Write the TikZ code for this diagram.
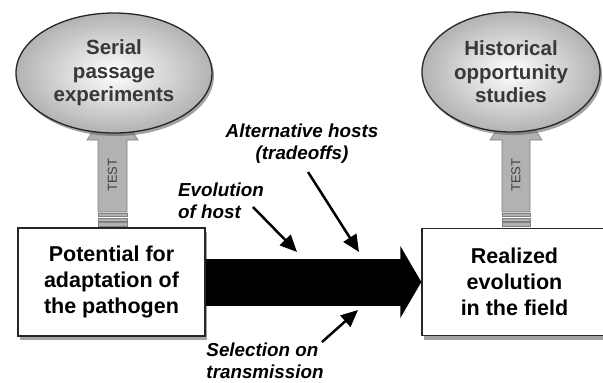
\documentclass[tikz,border=0pt]{standalone}
\usepackage{fontspec}
\setmainfont{Liberation Sans}
\usetikzlibrary{arrows.meta,shadows,shapes.geometric}
\begin{document}
\begin{tikzpicture}[x=1pt,y=-1pt,
  box/.style={draw=black!85, line width=1.3pt, fill=white, minimum width=187pt,
    minimum height=108pt, inner sep=0pt, align=center,
    font=\bfseries\fontsize{21.5}{26}\selectfont,
    drop shadow={shadow xshift=2pt, shadow yshift=-4pt, fill=black!60, opacity=0.6}},
  ell/.style={ellipse, draw=black!85, line width=1.3pt, inner color=white,
    outer color=black!30, align=center, inner sep=0pt, text=black!78,
    font=\bfseries\fontsize{20.5}{23.5}\selectfont,
    drop shadow={shadow xshift=2pt, shadow yshift=-3pt, fill=black!60, opacity=0.6}},
  lab/.style={align=#1, inner sep=0pt, font=\bfseries\itshape\fontsize{18.8}{22}\selectfont},
  lab/.default=left,
  testfill/.style={fill=black!30, draw=black!50, line width=0.6pt},
  testlab/.style={rotate=90, text=black!75, inner sep=0pt, font=\fontsize{13}{13}\selectfont},
  thin arrow/.style={line width=2.5pt, -{Triangle[length=17pt,width=15pt]}}
]
\useasboundingbox (0,0) rectangle (603,383);

% TEST arrows (drawn below the ellipses)
\filldraw[testfill] (87,140) -- (112.5,100) -- (138,140) -- (127,140) -- (127,212)
  -- (98,212) -- (98,140) -- cycle;
\filldraw[testfill] (98,213.5) rectangle (127,216.5);
\filldraw[testfill] (98,218) rectangle (127,221);
\filldraw[testfill] (98,222.5) rectangle (127,226);
\node[testlab] (t1) at (112.5,175) {TEST};

\filldraw[testfill] (490,140) -- (516,100) -- (542,140) -- (530,140) -- (530,212)
  -- (502,212) -- (502,140) -- cycle;
\filldraw[testfill] (502,213.5) rectangle (530,216.5);
\filldraw[testfill] (502,218) rectangle (530,221);
\filldraw[testfill] (502,222.5) rectangle (530,226);
\node[testlab] (t2) at (516,175) {TEST};

% ellipses
\node[ell, minimum width=196pt, minimum height=120pt] (sp) at (114,73)
  {Serial\\passage\\experiments};
\node[ell, minimum width=178pt, minimum height=120pt] (ho) at (511,72)
  {Historical\\opportunity\\studies};

% boxes
\node[box] (L) at (111.5,282) {Potential for\\adaptation of\\the pathogen};
\node[box, minimum width=190pt, minimum height=107pt] (R) at (517,282)
  {\hspace*{-5pt}Realized\\\hspace*{-5pt}evolution\\\hspace*{-5pt}in the field};

% main arrow
\draw[line width=47pt, -{Triangle[length=21pt,width=71pt]}] (L.east) -- (R.west);

% labels
\node[lab=center] (alt) at (302,144) {Alternative hosts\\(tradeoffs)};
\node[lab] (evo) at (221,201) {Evolution\\of host};
\node[lab] (sel) at (265,361) {Selection on\\transmission};

% small arrows
\coordinate (a1s) at (308,172);
\coordinate (a1e) at (359,252);
\coordinate (a2s) at (253,207);
\coordinate (a2e) at (297,252);
\coordinate (a3s) at (322,342);
\coordinate (a3e) at (358,310);
\draw[thin arrow] (a1s) -- (a1e);
\draw[thin arrow] (a2s) -- (a2e);
\draw[thin arrow] (a3s) -- (a3e);
\end{tikzpicture}
\end{document}
